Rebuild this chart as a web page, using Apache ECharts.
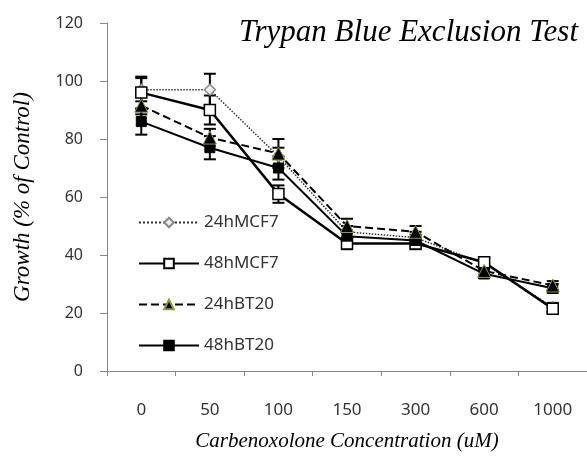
<!DOCTYPE html>
<html><head><meta charset="utf-8">
<script src="https://cdn.jsdelivr.net/npm/echarts@6/dist/echarts.min.js"></script>
<style>html,body{margin:0;padding:0;background:#fff}#c{width:587px;height:463px}</style>
</head><body><div id="c"></div>
<script>
const categories = ['0','50','100','150','300','600','1000'];
const mcf24 = [97, 97, 74, 48, 46, 37, 22];
const mcf48 = [96, 90, 61, 44, 44, 37.5, 21.5];
const bt24 = [91.5, 80.5, 75, 50, 48, 34.5, 29.5];
const bt48 = [86, 77, 70, 46.5, 45, 33.5, 28.5];
const mcf24Err = [4, 5.5, 3, 2, 2, 1.5, 1.5];
const mcf48Err = [5.5, 5, 3, 2, 2, 1.5, 1.5];
const bt24Err = [3, 3, 5, 2.5, 2, 1.5, 1.5];
const bt48Err = [4.5, 4, 4, 2, 2, 1.5, 1.5];
const yTicks = [0, 20, 40, 60, 80, 100, 120];

function errSeries(vals, errs) {
  return {
    type: 'custom',
    z: 1,
    silent: true,
    data: vals.map((v, i) => [i, v - errs[i], v + errs[i]]),
    renderItem: function (params, api) {
      const lo = api.coord([api.value(0), api.value(1)]);
      const hi = api.coord([api.value(0), api.value(2)]);
      const hw = 6;
      const st = { stroke: '#000', lineWidth: 2 };
      return { type: 'group', children: [
        { type: 'line', shape: { x1: hi[0], y1: hi[1], x2: lo[0], y2: lo[1] }, style: st },
        { type: 'line', shape: { x1: hi[0]-hw, y1: hi[1], x2: hi[0]+hw, y2: hi[1] }, style: st },
        { type: 'line', shape: { x1: lo[0]-hw, y1: lo[1], x2: lo[0]+hw, y2: lo[1] }, style: st }
      ]};
    }
  };
}

const chart = echarts.init(document.getElementById('c'), null, { renderer: 'canvas' });
chart.setOption({
  animation: false,
  backgroundColor: '#fff',
  title: {
    text: 'Trypan Blue Exclusion Test',
    right: 4, top: 12,
    textStyle: { fontFamily: 'Liberation Serif', fontStyle: 'italic', fontWeight: 'normal', fontSize: 31, color: '#000' }
  },
  legend: {
    orient: 'vertical', left: 133, top: 209,
    itemWidth: 60, itemHeight: 12, itemGap: 24,
    data: ['24hMCF7', '48hMCF7', '24hBT20', '48hBT20'],
    textStyle: { fontFamily: 'Noto Sans', fontSize: 17, color: '#333' }
  },
  grid: { left: 107, top: 23, bottom: 92, width: 488 },
  xAxis: {
    type: 'category', data: categories, boundaryGap: true,
    name: 'Carbenoxolone Concentration (uM)', nameLocation: 'middle', nameGap: 60,
    nameTextStyle: { fontFamily: 'Liberation Serif', fontStyle: 'italic', fontSize: 21, color: '#000' },
    axisLine: { lineStyle: { color: '#868686', width: 1 } },
    axisTick: { show: true, length: 5, lineStyle: { color: '#868686' } },
    axisLabel: { margin: 31, fontFamily: 'Noto Sans', fontSize: 17, color: '#333' },
    splitLine: { show: false }
  },
  yAxis: {
    type: 'value', min: 0, max: 120, interval: 20,
    name: 'Growth (% of Control)', nameLocation: 'middle', nameGap: 73,
    nameTextStyle: { fontFamily: 'Liberation Serif', fontStyle: 'italic', fontSize: 23, color: '#000' },
    axisLine: { show: true, lineStyle: { color: '#868686', width: 1 } },
    axisTick: { show: true, length: 7, lineStyle: { color: '#868686' } },
    axisLabel: { margin: 24, fontFamily: 'Noto Sans', fontSize: 16, color: '#333',
      formatter: v => yTicks.includes(v) ? String(v) : '' },
    splitLine: { show: false }
  },
  series: [
    errSeries(mcf24, mcf24Err),
    errSeries(mcf48, mcf48Err),
    errSeries(bt24, bt24Err),
    errSeries(bt48, bt48Err),
    { name: '24hMCF7', type: 'line', data: mcf24, z: 3,
      symbol: 'diamond', symbolSize: 11,
      lineStyle: { color: '#333', width: 1.5, type: 'dotted' },
      itemStyle: { color: '#eee', borderColor: '#888', borderWidth: 1.5 } },
    { name: '48hMCF7', type: 'line', data: mcf48, z: 3,
      symbol: 'rect', symbolSize: 11,
      lineStyle: { color: '#000', width: 2.5, type: 'solid' },
      itemStyle: { color: '#fff', borderColor: '#000', borderWidth: 1.5 } },
    { name: '24hBT20', type: 'line', data: bt24, z: 4,
      symbol: 'triangle', symbolSize: 13,
      lineStyle: { color: '#000', width: 2, type: 'dashed' },
      itemStyle: { color: '#000', borderColor: '#8a9a3a', borderWidth: 1 } },
    { name: '48hBT20', type: 'line', data: bt48, z: 3,
      symbol: 'rect', symbolSize: 10,
      lineStyle: { color: '#000', width: 2, type: 'solid' },
      itemStyle: { color: '#000', borderColor: '#000', borderWidth: 1 } }
  ]
});
</script></body></html>
